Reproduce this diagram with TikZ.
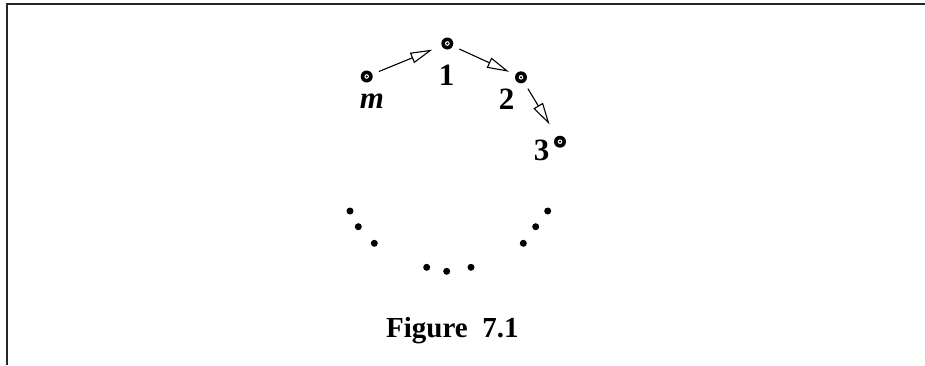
\documentclass[tikz,border=0pt]{standalone}
\usepackage{fontspec}
\setmainfont{Liberation Serif}
\usetikzlibrary{arrows.meta}
\tikzset{
  ring/.style={circle,fill=black,minimum size=12pt,inner sep=0pt,
    path picture={\fill[white] (path picture bounding box.center) circle (2.3pt);
                  \fill[black] (path picture bounding box.center) circle (1.2pt);}},
  dotpt/.style={circle,fill=black,minimum size=7pt,inner sep=0pt},
  lab/.style={font=\fontsize{31}{31}\selectfont\bfseries,inner sep=0pt},
  conn/.style={line width=1.1pt,-{Triangle[open,length=22pt,width=11pt,line width=1.1pt]}},
  frame/.style={line width=1.6pt,black!85}
}
\begin{document}
\begin{tikzpicture}[x=1pt,y=-1pt]
\useasboundingbox (0,0) rectangle (925,365);
\draw[frame] (7,365) -- (7,4) -- (925,4);
% main points
\node[ring] (m) at (366.7,76.5) {};
\node[ring] (p1) at (447.3,43.5) {};
\node[ring] (p2) at (521,77.3) {};
\node[ring] (p3) at (560,141.7) {};
% labels
\node[lab] (lm) at (372,101) {\itshape m};
\node[lab] (l1) at (446.5,75) {1};
\node[lab] (l2) at (506.5,99) {2};
\node[lab] (l3) at (541.5,150) {3};
% connectors
\draw[conn,shorten <=7pt,shorten >=10pt] (m) -- (p1);
\draw[conn,shorten <=7pt,shorten >=7pt] (p1) -- (p2);
\draw[conn,shorten <=7pt,shorten >=14pt] (p2) -- (p3);
% ellipsis dots
\node[dotpt] (a1) at (350,211) {};
\node[dotpt] (a2) at (358.3,226.7) {};
\node[dotpt] (a3) at (374.3,243.3) {};
\node[dotpt] (b1) at (426.7,267.3) {};
\node[dotpt] (b2) at (446.7,271.3) {};
\node[dotpt] (b3) at (471,267.3) {};
\node[dotpt] (c1) at (523.3,243.3) {};
\node[dotpt] (c2) at (535.7,226.7) {};
\node[dotpt] (c3) at (547.7,211) {};
% caption
\node[font=\fontsize{29}{29}\selectfont\bfseries,inner sep=0pt,anchor=base west] (cap) at (386,337) {Figure\ \ 7.1};
\end{tikzpicture}
\end{document}
